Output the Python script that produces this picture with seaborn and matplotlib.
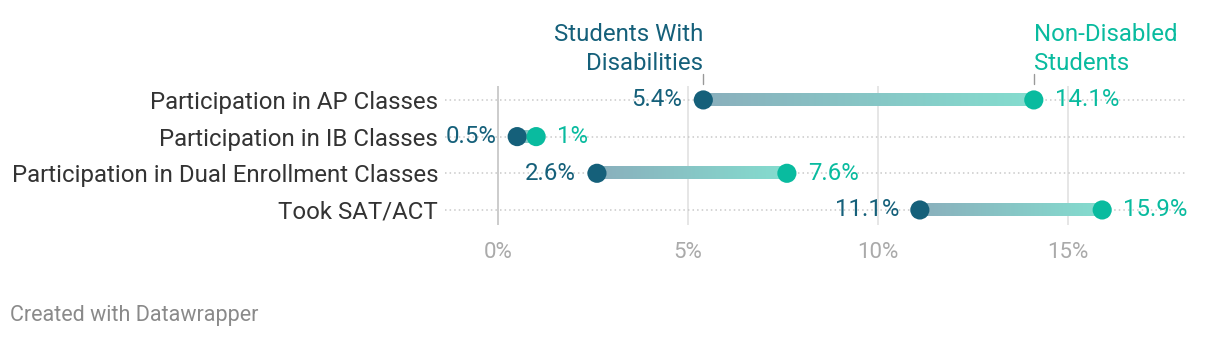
import numpy as np
import pandas as pd
import matplotlib
matplotlib.use("Agg")
import matplotlib.pyplot as plt
import seaborn as sns
from matplotlib.colors import to_rgb

categories = [
    "Participation in AP Classes",
    "Participation in IB Classes",
    "Participation in Dual Enrollment Classes",
    "Took SAT/ACT",
]
disabled = [5.4, 0.5, 2.6, 11.1]
non_disabled = [14.1, 1.0, 7.6, 15.9]
disabled_labels = ["5.4%", "0.5%", "2.6%", "11.1%"]
non_disabled_labels = ["14.1%", "1%", "7.6%", "15.9%"]
series_names = ["Students With\nDisabilities", "Non-Disabled\nStudents"]
xticks = [0, 5, 10, 15]
xtick_labels = ["0%", "5%", "10%", "15%"]

DARK = "#15607a"
LIGHT = "#09bb9f"

sns.set_theme(style="white")
plt.rcParams["font.family"] = ["Roboto", "DejaVu Sans"]

fig = plt.figure(figsize=(12.2, 3.38), dpi=100)
W, H = 1220, 338
ax_left, ax_right, ax_top, ax_bot = 445, 1185, 86, 225
ax = fig.add_axes([ax_left / W, 1 - ax_bot / H, (ax_right - ax_left) / W, (ax_bot - ax_top) / H])

ypos = np.arange(len(categories))
df = pd.DataFrame({
    "value": disabled + non_disabled,
    "row": list(ypos) + list(ypos),
    "group": ["dis"] * len(categories) + ["non"] * len(categories),
})

# gridlines
for t in xticks:
    ax.axvline(t, color="#c8c8c8" if t == 0 else "#e4e4e4", lw=1.3, zorder=0)
for y in ypos:
    ax.axhline(y, color="#c9c9c9", lw=1.1, ls=(0, (1, 2)), zorder=0.5)

# gradient connectors
c1 = np.array(to_rgb(DARK))
c2 = np.array(to_rgb(LIGHT))
t = np.linspace(0, 1, 256)[:, None]
grad = (1 - t) * c1 + t * c2
grad = grad * 0.5 + 0.5
img = np.clip(grad, 0, 1)[None, :, :]
h = 0.165
for y, a, b in zip(ypos, disabled, non_disabled):
    ax.imshow(img, extent=(a, b, y + h, y - h), aspect="auto", zorder=1,
              interpolation="bilinear")

sns.scatterplot(data=df, x="value", y="row", hue="group",
                palette={"dis": DARK, "non": LIGHT}, s=190, edgecolor="none",
                legend=False, ax=ax, zorder=3)

# value labels
fs = 17.3
for y, a, b, la, lb in zip(ypos, disabled, non_disabled, disabled_labels, non_disabled_labels):
    ax.annotate(la, (a, y), xytext=(-15, 0), textcoords="offset points",
                ha="right", va="center", color=DARK, fontsize=fs)
    ax.annotate(lb, (b, y), xytext=(15, 0), textcoords="offset points",
                ha="left", va="center", color=LIGHT, fontsize=fs)

# series header labels
ax.text(disabled[0], -0.68, series_names[0], ha="right", va="bottom",
        color=DARK, fontsize=fs, linespacing=1.34)
ax.text(non_disabled[0], -0.68, series_names[1], ha="left", va="bottom",
        color=LIGHT, fontsize=fs, linespacing=1.34)
for xv in (disabled[0], non_disabled[0]):
    ax.plot([xv, xv], [-0.70, -0.44], color="#999999", lw=1, clip_on=False, zorder=2)

ax.set_xlim(-1.40, 18.08)
ax.set_ylim(3.41, -0.38)
ax.set_xticks(xticks)
ax.set_xticklabels(xtick_labels, color="#aaaaaa", fontsize=16)
ax.set_yticks(ypos)
ax.set_yticklabels(categories, color="#333333", fontsize=fs)
ax.tick_params(axis="x", length=0, pad=12)
ax.tick_params(axis="y", length=0, pad=5)
ax.set_xlabel("")
ax.set_ylabel("")
for s in ax.spines.values():
    s.set_visible(False)

fig.text(10 / W, 1 - 315 / H, "Created with Datawrapper", ha="left", va="center",
         color="#8a8a8a", fontsize=15.5)

fig.savefig("out.png", dpi=100)
